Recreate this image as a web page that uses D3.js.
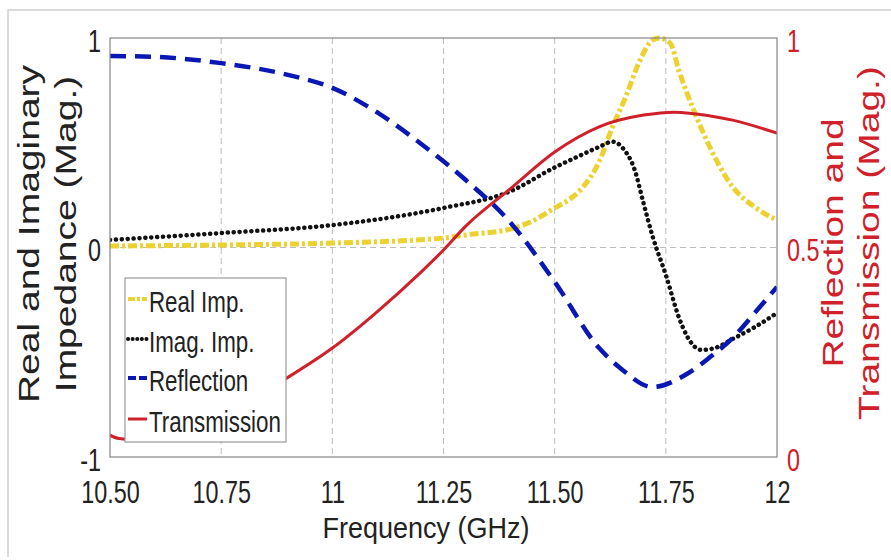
<!DOCTYPE html>
<html>
<head>
<meta charset="utf-8">
<script src="https://cdn.jsdelivr.net/npm/d3@7"></script>
<style>
  html, body { margin: 0; padding: 0; background: #ffffff; }
  svg { display: block; }
  text { font-family: "Liberation Sans", Arial, sans-serif; }
</style>
</head>
<body>
<svg id="chart" width="891" height="560"></svg>
<script>
// Frequency sweep (GHz) and the four measured quantities
const xTicks = [10.5, 10.75, 11, 11.25, 11.5, 11.75, 12];
const xTickLabels = ["10.50", "10.75", "11", "11.25", "11.50", "11.75", "12"];
const leftTicks = [-1, 0, 1];
const rightTicks = [0, 0.5, 1];

const realFreq = [10.5, 10.75, 11.0, 11.25, 11.3, 11.4, 11.45, 11.5, 11.53, 11.56, 11.6, 11.63, 11.66, 11.69, 11.72, 11.735, 11.76, 11.78, 11.81, 11.84, 11.9, 11.95, 12.0];
const realImp  = [0.007, 0.012, 0.021, 0.045, 0.06, 0.088, 0.126, 0.189, 0.225, 0.28, 0.41, 0.575, 0.72, 0.885, 0.99, 1.0, 0.975, 0.84, 0.67, 0.52, 0.29, 0.193, 0.131];

const imagFreq = [10.5, 10.75, 11.0, 11.25, 11.4, 11.5, 11.55, 11.6, 11.63, 11.655, 11.68, 11.7, 11.72, 11.75, 11.78, 11.8, 11.83, 11.86, 11.9, 11.95, 12.0];
const imagImp  = [0.036, 0.069, 0.107, 0.189, 0.268, 0.382, 0.432, 0.48, 0.505, 0.47, 0.37, 0.21, 0.055, -0.131, -0.337, -0.432, -0.489, -0.48, -0.437, -0.38, -0.313];

const reflFreq   = [10.5, 10.6, 10.75, 10.9, 11.0, 11.1, 11.2, 11.3, 11.4, 11.5, 11.6, 11.65, 11.72, 11.8, 11.85, 11.9, 11.95, 12.0];
const reflection = [0.957, 0.955, 0.94, 0.912, 0.881, 0.823, 0.747, 0.661, 0.56, 0.418, 0.26, 0.21, 0.167, 0.2, 0.239, 0.284, 0.344, 0.406];

const transFreq    = [10.5, 10.52, 10.56, 10.62, 10.7, 10.8, 10.9, 11.0, 11.1, 11.2, 11.25, 11.3, 11.4, 11.5, 11.6, 11.7, 11.77, 11.85, 11.9, 12.0];
const transmission = [0.052, 0.044, 0.041, 0.05, 0.078, 0.128, 0.19, 0.26, 0.346, 0.442, 0.494, 0.551, 0.64, 0.728, 0.788, 0.816, 0.823, 0.814, 0.804, 0.773];

const legendLabels = ["Real Imp.", "Imag. Imp.", "Reflection", "Transmission"];

// Plot geometry
const plot = { left: 110, right: 777, top: 38, bottom: 457 };
const SQ = 0.73;               // horizontal squeeze for the tick labels
const red = "#d0202a";
const ink = "#222222";

const svg = d3.select("#chart");

// light outer frame
svg.append("path")
  .attr("d", "M8,557 V10 H891")
  .attr("fill", "none").attr("stroke", "#cfcfcf").attr("stroke-width", 1.5);

const x = d3.scaleLinear().domain([10.5, 12]).range([plot.left, plot.right]);
const yL = d3.scaleLinear().domain([-1, 1]).range([plot.bottom, plot.top]);
const yR = d3.scaleLinear().domain([0, 1]).range([plot.bottom, plot.top]);

// grid
const grid = svg.append("g").attr("stroke", "#bdbdbd").attr("stroke-width", 1)
  .attr("stroke-dasharray", "6,4").attr("fill", "none");
grid.selectAll("line.v").data(xTicks.slice(1, -1)).join("line")
  .attr("x1", d => x(d)).attr("x2", d => x(d))
  .attr("y1", plot.top).attr("y2", plot.bottom);
grid.append("line")
  .attr("x1", plot.left).attr("x2", plot.right)
  .attr("y1", yL(0)).attr("y2", yL(0));

// clip for the curves
svg.append("clipPath").attr("id", "plotClip").append("rect")
  .attr("x", plot.left).attr("y", plot.top - 4)
  .attr("width", plot.right - plot.left).attr("height", plot.bottom - plot.top + 4);

const curves = svg.append("g").attr("clip-path", "url(#plotClip)").attr("fill", "none");

function lineFor(freqs, vals, yScale) {
  return d3.line()
    .x((d, i) => x(freqs[i]))
    .y(d => yScale(d))
    .curve(d3.curveMonotoneX)(vals);
}

const styles = {
  real:  { stroke: "#ecd230", width: 5,   dash: "9,3,3,3", cap: "butt" },
  imag:  { stroke: "#111111", width: 4.5, dash: "0.1,5.8", cap: "round" },
  refl:  { stroke: "#0a17b4", width: 4.5, dash: "16,9",    cap: "butt" },
  trans: { stroke: red,       width: 3,   dash: null,      cap: "butt" }
};

function drawCurve(freqs, vals, yScale, st) {
  curves.append("path")
    .attr("d", lineFor(freqs, vals, yScale))
    .attr("stroke", st.stroke)
    .attr("stroke-width", st.width)
    .attr("stroke-linecap", st.cap)
    .attr("stroke-dasharray", st.dash);
}

drawCurve(realFreq, realImp, yL, styles.real);
drawCurve(imagFreq, imagImp, yL, styles.imag);
drawCurve(reflFreq, reflection, yR, styles.refl);
drawCurve(transFreq, transmission, yR, styles.trans);

// axes box
svg.append("rect")
  .attr("x", plot.left).attr("y", plot.top)
  .attr("width", plot.right - plot.left).attr("height", plot.bottom - plot.top)
  .attr("fill", "none").attr("stroke", "#858585").attr("stroke-width", 1.2);

// bottom axis
const gx = svg.append("g").attr("transform", `translate(0,${plot.bottom})`)
  .call(d3.axisBottom(x).tickValues(xTicks).tickFormat((d, i) => xTickLabels[i])
    .tickSize(0).tickPadding(23));
gx.select(".domain").remove();
gx.selectAll("text")
  .attr("font-size", 32).attr("fill", ink)
  .attr("font-family", "Liberation Sans, Arial, sans-serif")
  .attr("transform", `scale(${SQ},1)`);

// left axis
const gl = svg.append("g").attr("transform", `translate(${plot.left},0)`)
  .call(d3.axisLeft(yL).tickValues(leftTicks).tickFormat(d => String(d)).tickSize(0));
gl.select(".domain").remove();
gl.selectAll("text")
  .attr("font-size", 32).attr("fill", ink)
  .attr("font-family", "Liberation Sans, Arial, sans-serif")
  .attr("x", -9 / SQ).attr("dy", "0.42em")
  .attr("transform", `scale(${SQ},1)`);

// right axis
const gr = svg.append("g").attr("transform", `translate(${plot.right},0)`)
  .call(d3.axisRight(yR).tickValues(rightTicks).tickFormat(d => String(d)).tickSize(0));
gr.select(".domain").remove();
gr.selectAll("text")
  .attr("font-size", 32).attr("fill", red)
  .attr("font-family", "Liberation Sans, Arial, sans-serif")
  .attr("x", 10 / SQ).attr("dy", "0.42em")
  .attr("transform", `scale(${SQ},1)`);

// axis titles
svg.append("text")
  .attr("transform", "translate(426,538) scale(0.9,1)")
  .attr("text-anchor", "middle").attr("font-size", 30).attr("fill", ink)
  .text("Frequency (GHz)");

function vTitle(lines, xs, cy, color) {
  lines.forEach((t, i) => {
    svg.append("text")
      .attr("transform", `translate(${xs[i]},${cy}) rotate(-90) scale(1,0.74)`)
      .attr("text-anchor", "middle").attr("font-size", 39).attr("fill", color)
      .text(t);
  });
}
vTitle(["Real and Imaginary", "Impedance (Mag.)"], [39, 76], 234, ink);
vTitle(["Reflection and", "Transmission (Mag.)"], [843, 879], 243, red);

// legend
const leg = svg.append("g");
leg.append("rect")
  .attr("x", 125).attr("y", 278).attr("width", 161).attr("height", 164)
  .attr("fill", "#ffffff").attr("stroke", "#9a9a9a").attr("stroke-width", 1.2);
const legStyles = [styles.real, styles.imag, styles.refl, styles.trans];
const legDash = ["7,2,3,2", "0.1,4.5", "8,3", null];
const baselines = [312, 352, 391, 432];
legendLabels.forEach((lab, i) => {
  const st = legStyles[i];
  leg.append("line")
    .attr("x1", 128).attr("x2", 147)
    .attr("y1", baselines[i] - 13).attr("y2", baselines[i] - 13)
    .attr("stroke", st.stroke).attr("stroke-width", i === 3 ? 3 : 4)
    .attr("stroke-linecap", st.cap).attr("stroke-dasharray", legDash[i]);
  leg.append("text")
    .attr("transform", `translate(149,${baselines[i]}) scale(0.77,1)`)
    .attr("font-size", 29).attr("fill", ink)
    .text(lab);
});
</script>
</body>
</html>
